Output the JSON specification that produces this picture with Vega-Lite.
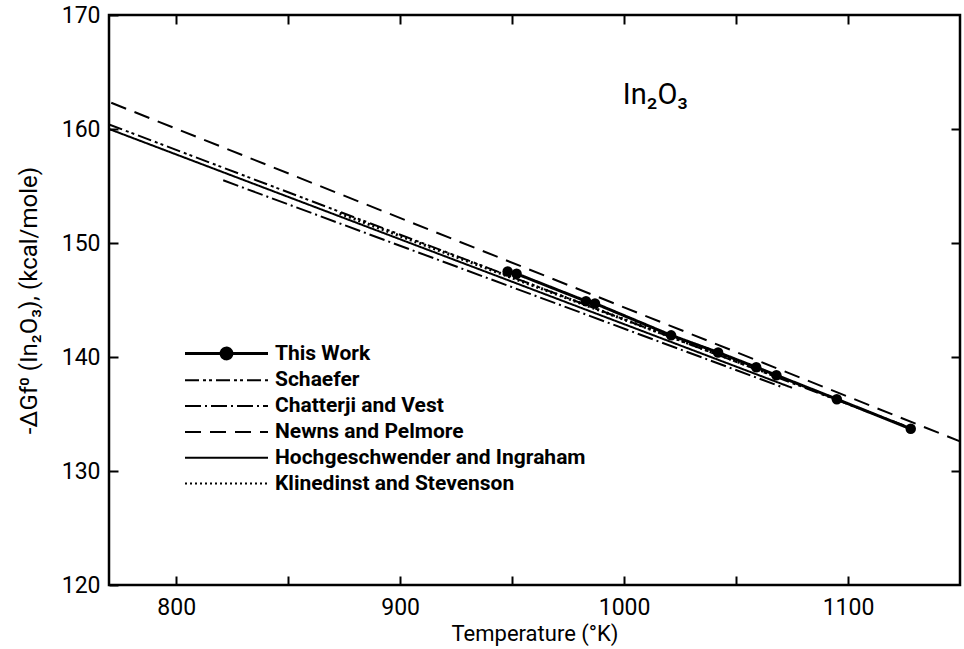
{
  "$schema": "https://vega.github.io/schema/vega-lite/v6.json",
  "width": 851,
  "height": 570,
  "autosize": {"type": "none"},
  "padding": {"left": 109, "top": 15, "right": 4, "bottom": 64},
  "background": "white",
  "config": {
    "view": {"stroke": "black", "strokeWidth": 2.5},
    "font": "Roboto",
    "axis": {"domain": false, "grid": false, "tickColor": "black", "tickWidth": 2, "labelColor": "black", "titleColor": "black", "labelFont": "Roboto", "titleFont": "Roboto", "labelFontSize": 23, "titleFontSize": 22, "titleFontWeight": "normal"}
  },
  "datasets": {
    "lines": [
      {"series": "Newns and Pelmore", "x": 771, "y": 162.3},
      {"series": "Newns and Pelmore", "x": 1150, "y": 132.6},
      {"series": "Schaefer", "x": 770, "y": 160.4},
      {"series": "Schaefer", "x": 1125, "y": 134.0},
      {"series": "Hochgeschwender and Ingraham", "x": 770, "y": 160.0},
      {"series": "Hochgeschwender and Ingraham", "x": 1075, "y": 137.3},
      {"series": "Chatterji and Vest", "x": 821, "y": 155.5},
      {"series": "Chatterji and Vest", "x": 1070, "y": 137.4},
      {"series": "Klinedinst and Stevenson", "x": 873, "y": 152.6},
      {"series": "Klinedinst and Stevenson", "x": 1064, "y": 138.6}
    ],
    "thiswork": [
      {"series": "This Work", "x": 948, "y": 147.5},
      {"series": "This Work", "x": 952, "y": 147.3},
      {"series": "This Work", "x": 983, "y": 144.9},
      {"series": "This Work", "x": 987, "y": 144.7},
      {"series": "This Work", "x": 1021, "y": 141.9},
      {"series": "This Work", "x": 1042, "y": 140.4},
      {"series": "This Work", "x": 1059, "y": 139.1},
      {"series": "This Work", "x": 1068, "y": 138.4},
      {"series": "This Work", "x": 1095, "y": 136.3},
      {"series": "This Work", "x": 1128, "y": 133.7}
    ],
    "note": [{"x": 1014, "y": 163.0, "label": "In₂O₃"}]
  },
  "layer": [
    {
      "data": {"name": "lines"},
      "transform": [{"filter": "datum.series !== 'Klinedinst and Stevenson'"}],
      "mark": {"type": "line", "color": "black", "strokeWidth": 2},
      "encoding": {
        "x": {"field": "x", "type": "quantitative", "scale": {"domain": [770, 1150], "nice": false, "zero": false},
          "axis": {"orient": "bottom", "title": "Temperature (°K)", "values": [800, 850, 900, 950, 1000, 1050, 1100], "labelExpr": "datum.value % 100 === 0 ? datum.label : ''", "tickSize": -9, "labelPadding": 20, "titlePadding": 4, "format": "d"}},
        "y": {"field": "y", "type": "quantitative", "scale": {"domain": [120, 170], "nice": false, "zero": false},
          "axis": {"orient": "left", "title": "-ΔGf⁰ (In₂O₃),  (kcal/mole)", "titleFontSize": 24, "values": [120, 130, 140, 150, 160, 170], "tickSize": -9, "labelPadding": 18, "titlePadding": 20}},
        "strokeDash": {"field": "series", "type": "nominal",
          "scale": {"domain": ["This Work", "Schaefer", "Chatterji and Vest", "Newns and Pelmore", "Hochgeschwender and Ingraham", "Klinedinst and Stevenson"],
                    "range": [[1, 0], [14, 4, 3, 3, 3, 4], [16, 4, 2, 4], [16, 9], [1, 0], [2, 3]]},
          "legend": {"title": null, "orient": "none", "legendX": 76, "legendY": 328, "symbolType": "stroke", "symbolSize": 6889, "symbolStrokeColor": "black", "symbolStrokeWidth": 2, "symbolOffset": 31, "labelFontSize": 21, "labelFont": "Roboto", "labelFontWeight": "bold", "labelColor": "black", "labelOffset": 38, "labelLimit": 500, "rowPadding": 3.8,
            "encode": {"symbols": {"update": {
              "shape": {"signal": "datum.value === 'This Work' ? 'M-1,0H1M-0.13,0A0.13,0.13,0,1,0,0.13,0A0.13,0.13,0,1,0,-0.13,0Z' : 'stroke'"},
              "fill": {"signal": "datum.value === 'This Work' ? 'black' : 'transparent'"},
              "stroke": {"value": "black"},
              "strokeDash": {"scale": "strokeDash", "field": "value"},
              "strokeWidth": {"signal": "datum.value === 'This Work' ? 3 : 2"}
            }}}}
        }
      }
    },
    {
      "data": {"name": "lines"},
      "transform": [{"filter": "datum.series === 'Klinedinst and Stevenson'"}],
      "mark": {"type": "line", "color": "black", "strokeWidth": 3},
      "encoding": {
        "x": {"field": "x", "type": "quantitative", "axis": null},
        "y": {"field": "y", "type": "quantitative", "axis": null},
        "strokeDash": {"field": "series", "type": "nominal"}
      }
    },
    {
      "data": {"name": "thiswork"},
      "mark": {"type": "line", "color": "black", "strokeWidth": 3},
      "encoding": {
        "x": {"field": "x", "type": "quantitative", "axis": null},
        "y": {"field": "y", "type": "quantitative", "axis": null},
        "strokeDash": {"field": "series", "type": "nominal"}
      }
    },
    {
      "data": {"name": "thiswork"},
      "mark": {"type": "circle", "color": "black", "size": 110, "opacity": 1},
      "encoding": {
        "x": {"field": "x", "type": "quantitative", "axis": null},
        "y": {"field": "y", "type": "quantitative", "axis": null}
      }
    },
    {
      "data": {"name": "note"},
      "mark": {"type": "text", "fontSize": 29, "font": "Roboto", "color": "black"},
      "encoding": {
        "x": {"field": "x", "type": "quantitative", "axis": {"orient": "top", "title": null, "labels": false, "values": [800, 850, 900, 950, 1000, 1050, 1100], "tickSize": -9}},
        "y": {"field": "y", "type": "quantitative", "axis": {"orient": "right", "title": null, "labels": false, "values": [130, 140, 150, 160], "tickSize": -9}},
        "text": {"field": "label"}
      }
    }
  ],
  "resolve": {"axis": {"x": "independent", "y": "independent"}}
}
